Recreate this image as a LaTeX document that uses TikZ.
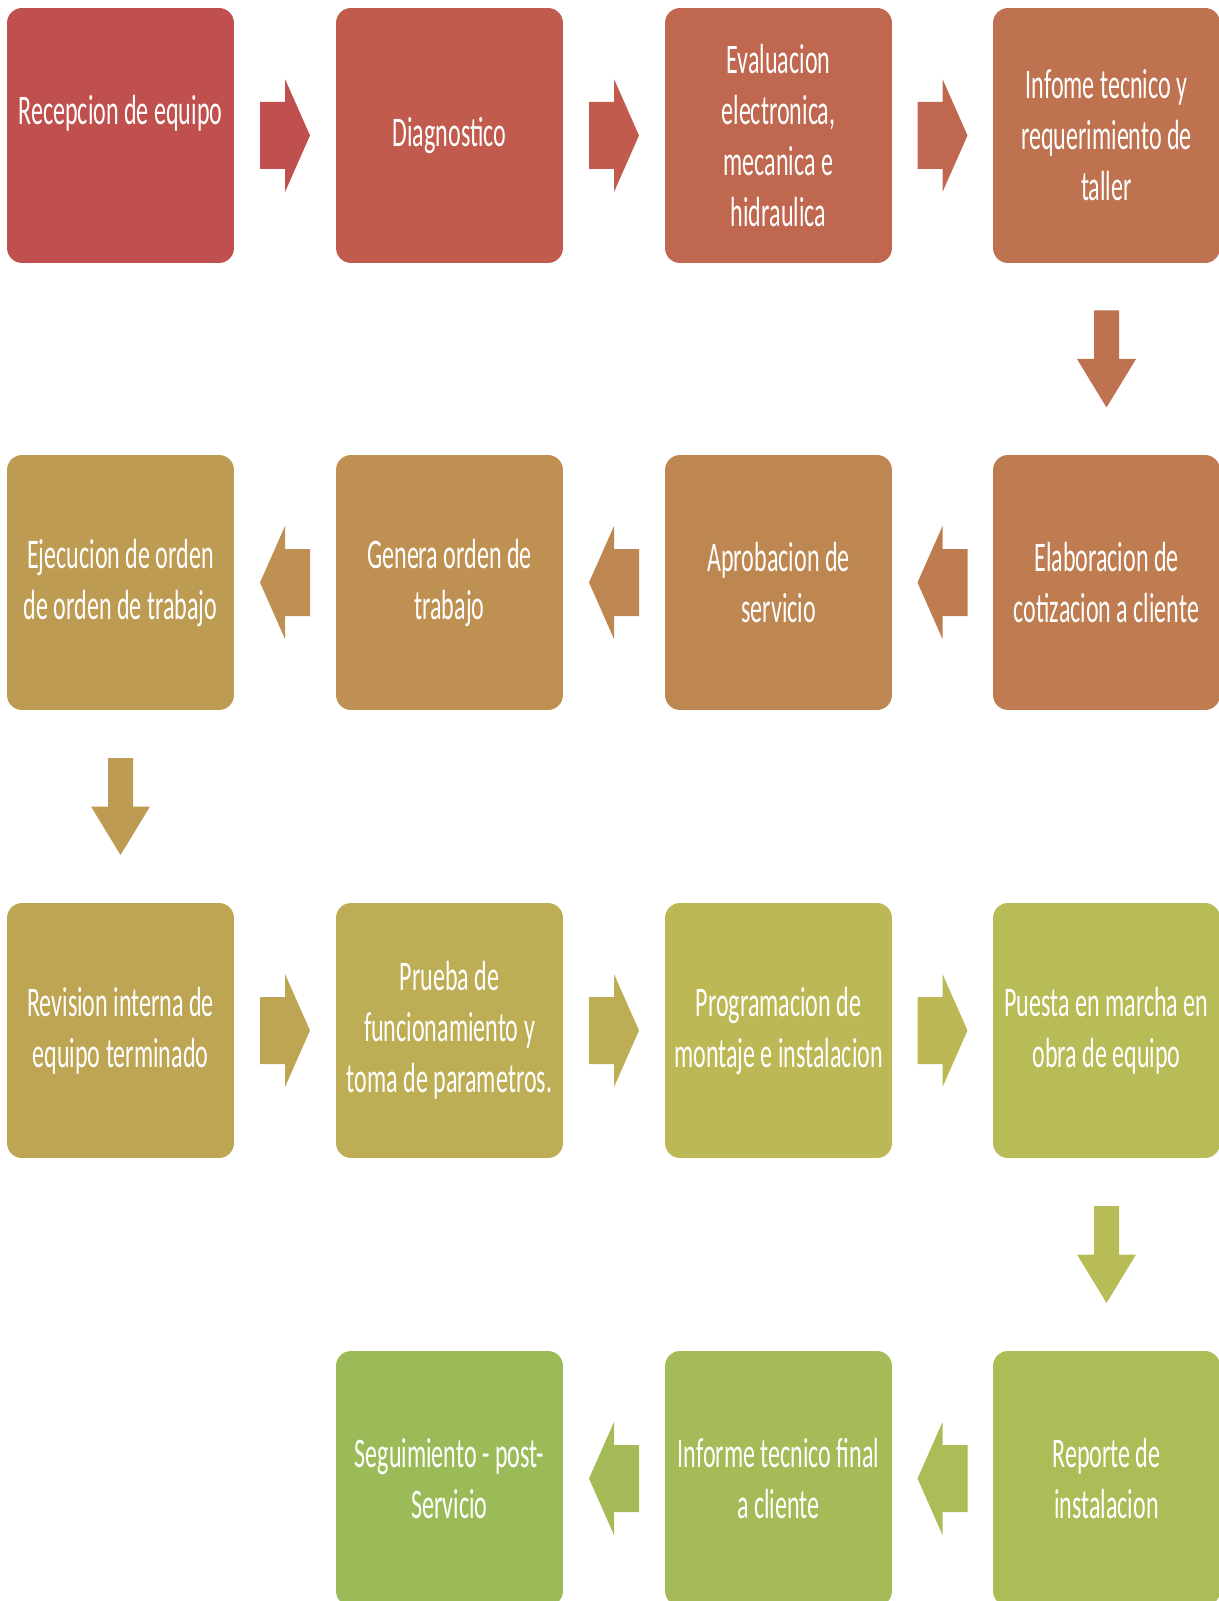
\documentclass[tikz,border=0pt]{standalone}
\usepackage{fontspec}
\setmainfont[FakeStretch=0.57]{Carlito}
\usetikzlibrary{calc}
\definecolor{s1}{RGB}{192,80,77}
\definecolor{s2}{RGB}{192,91,78}
\definecolor{s3}{RGB}{191,103,79}
\definecolor{s4}{RGB}{191,114,80}
\definecolor{s5}{RGB}{190,124,80}
\definecolor{s6}{RGB}{190,135,81}
\definecolor{s7}{RGB}{190,145,82}
\definecolor{s8}{RGB}{190,155,83}
\definecolor{s9}{RGB}{189,165,84}
\definecolor{s10}{RGB}{189,174,85}
\definecolor{s11}{RGB}{188,184,86}
\definecolor{s12}{RGB}{183,188,86}
\definecolor{s13}{RGB}{174,188,87}
\definecolor{s14}{RGB}{164,187,88}
\definecolor{s15}{RGB}{155,187,89}
\tikzset{
  stepbox/.style={rectangle,rounded corners=0.3cm,minimum width=4.54cm,minimum height=5.1cm,
    inner sep=0,align=center,text=white,font=\fontsize{24pt}{29pt}\selectfont},
  rarrow/.pic={\fill (-25,-33.5) -- (0,-33.5) -- (0,-56.5) -- (25,0) -- (0,56.5) -- (0,33.5) -- (-25,33.5) -- cycle;},
  darrow/.pic={\fill (-12.5,48.5) -- (12.5,48.5) -- (12.5,0) -- (29.5,0) -- (0,-48.5) -- (-29.5,0) -- (-12.5,0) -- cycle;}
}
\begin{document}
\begin{tikzpicture}[x=0.02cm,y=0.02cm]
        \useasboundingbox (0,0) rectangle (1219,-1601);
        \clip (0,0) rectangle (1219,-1601);
        % fila 1
        \node[stepbox,fill=s1] (b1) at (120.5,-135.5) {Recepcion de equipo\\[-8pt]\strut};
        \node[stepbox,fill=s2] (b2) at (449.5,-135.5) {Diagnostico};
        \node[stepbox,fill=s3] (b3) at (778.5,-135.5) {Evaluacion\\electronica,\\mecanica e\\hidraulica};
        \node[stepbox,fill=s4] (b4) at (1106.5,-135.5) {Infome tecnico y\\requerimiento de\\taller};
        % fila 2
        \node[stepbox,fill=s5] (b5) at (1106.5,-582.5) {Elaboracion de\\cotizacion a cliente};
        \node[stepbox,fill=s6] (b6) at (778.5,-582.5) {Aprobacion de\\servicio};
        \node[stepbox,fill=s7] (b7) at (449.5,-582.5) {Genera orden de\\trabajo};
        \node[stepbox,fill=s8] (b8) at (120.5,-582.5) {Ejecucion de orden\\de orden de trabajo};
        % fila 3
        \node[stepbox,fill=s9] (b9) at (120.5,-1030.5) {Revision interna de\\equipo terminado};
        \node[stepbox,fill=s10] (b10) at (449.5,-1030.5) {Prueba de\\funcionamiento y\\toma de parametros.};
        \node[stepbox,fill=s11] (b11) at (778.5,-1030.5) {Programacion de\\montaje e instalacion};
        \node[stepbox,fill=s12] (b12) at (1106.5,-1030.5) {Puesta en marcha en\\obra de equipo};
        % fila 4
        \node[stepbox,fill=s13] (b13) at (1106.5,-1478.5) {Reporte de\\instalacion};
        \node[stepbox,fill=s14] (b14) at (778.5,-1478.5) {Informe tecnico final\\a cliente};
        \node[stepbox,fill=s15] (b15) at (449.5,-1478.5) {Seguimiento - post-\\Servicio};
        % flechas
        \pic[s1] at ($(b1.east)!0.5!(b2.west)$) {rarrow};
        \pic[s2] at ($(b2.east)!0.5!(b3.west)$) {rarrow};
        \pic[s3] at ($(b3.east)!0.5!(b4.west)$) {rarrow};
        \pic[s4] at ($(b4.south)!0.5!(b5.north)$) {darrow};
        \pic[s5,rotate=180] at ($(b5.west)!0.5!(b6.east)$) {rarrow};
        \pic[s6,rotate=180] at ($(b6.west)!0.5!(b7.east)$) {rarrow};
        \pic[s7,rotate=180] at ($(b7.west)!0.5!(b8.east)$) {rarrow};
        \pic[s8] at ($(b8.south)!0.5!(b9.north)$) {darrow};
        \pic[s9] at ($(b9.east)!0.5!(b10.west)$) {rarrow};
        \pic[s10] at ($(b10.east)!0.5!(b11.west)$) {rarrow};
        \pic[s11] at ($(b11.east)!0.5!(b12.west)$) {rarrow};
        \pic[s12] at ($(b12.south)!0.5!(b13.north)$) {darrow};
        \pic[s13,rotate=180] at ($(b13.west)!0.5!(b14.east)$) {rarrow};
        \pic[s14,rotate=180] at ($(b14.west)!0.5!(b15.east)$) {rarrow};
\end{tikzpicture}
\end{document}
